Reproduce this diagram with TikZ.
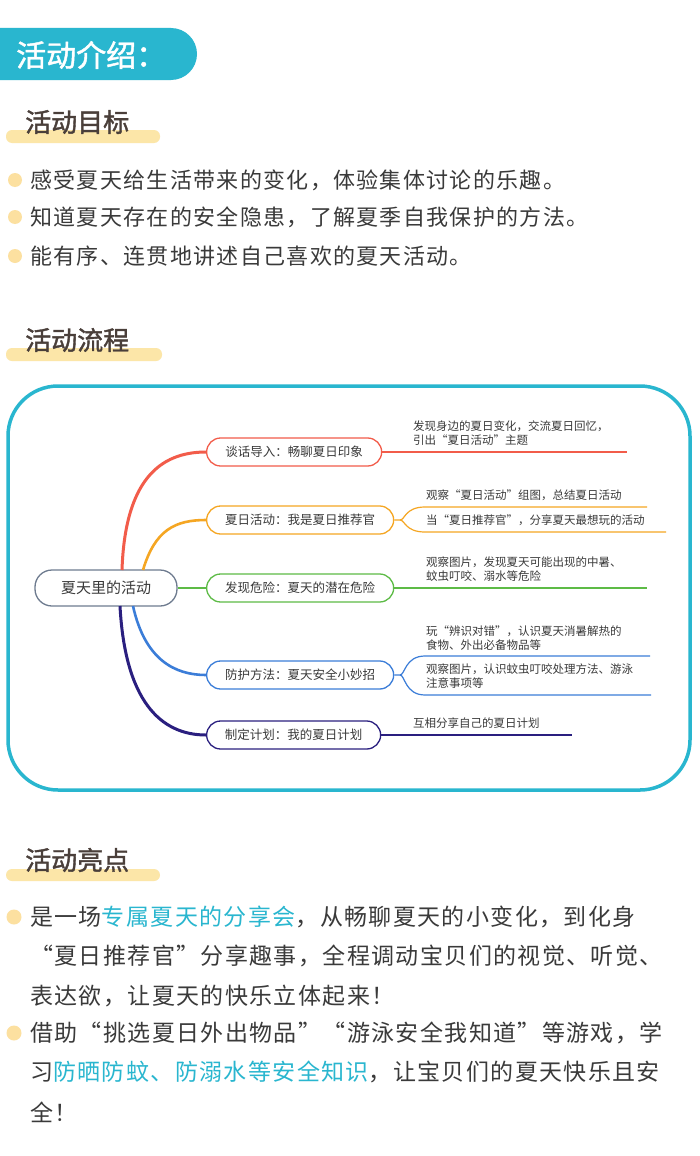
\documentclass[tikz,border=0pt]{standalone}
\usepackage{fontspec}
\setmainfont{Noto Sans CJK SC}
\newfontfamily\cjk{Noto Sans CJK SC}
\newfontfamily\cjkb[FakeBold=1.5]{Noto Sans CJK SC}
\newfontfamily\cjksp[LetterSpace=6]{Noto Sans CJK SC}
\definecolor{teal}{HTML}{29B6CF}
\definecolor{hl}{HTML}{FCE6A8}
\definecolor{dot}{HTML}{FCE0A0}
\definecolor{txt}{HTML}{3A3A3A}
\definecolor{head}{HTML}{4A3F3A}
\definecolor{cR}{HTML}{F25C4A}
\definecolor{cO}{HTML}{F5A623}
\definecolor{cG}{HTML}{5DBB46}
\definecolor{cB}{HTML}{3B7DD8}
\definecolor{cN}{HTML}{2A1F7F}
\definecolor{cC}{HTML}{6E7B8F}
\begin{document}
\begin{tikzpicture}[x=1pt,y=-1pt,
  heading/.style={anchor=west,inner sep=0pt,font=\fontsize{26}{26}\cjkb,text=head},
  bodyt/.style={anchor=west,inner sep=0pt,font=\fontsize{22}{22}\cjksp,text=txt},
  hitxt/.style={anchor=west,inner sep=0pt,font=\fontsize{23}{23}\cjksp,text=txt},
  branch/.style={draw=#1,line width=1.3pt,rounded corners=14pt,minimum height=28pt,inner xsep=12pt,font=\fontsize{12.5}{12.5}\cjk,text=txt,anchor=west},
  leaf/.style={anchor=west,inner sep=0pt,font=\fontsize{11.5}{13.5}\cjk,text=txt,align=left}]
\useasboundingbox (0,0) rectangle (700,1156);
\fill[white] (0,0) rectangle (700,1156);
% header
\fill[teal] (0,28) [rounded corners=26pt] -- (197,28) -- (197,80) [sharp corners] -- (0,80) -- cycle;
\node[anchor=west,inner sep=0pt,text=white,font=\fontsize{30}{30}\cjkb] (h0) at (16,55) {活动介绍：};
% section 1
\fill[hl,rounded corners=6pt] (6,130) rectangle (160,143);
\node[heading] (h1) at (25,122) {活动目标};
\foreach \y/\t in {180/{感受夏天给生活带来的变化，体验集体讨论的乐趣。},217/{知道夏天存在的安全隐患，了解夏季自我保护的方法。},256/{能有序、连贯地讲述自己喜欢的夏天活动。}}{
  \fill[dot] (15,\y) circle (7);
  \node[bodyt] at (30,\y) {\t};
}
% section 2
\fill[hl,rounded corners=6pt] (6,348) rectangle (162,361);
\node[heading] (h2) at (25,340) {活动流程};
\draw[teal,line width=3.5pt,rounded corners=50pt] (8,386) rectangle (690,790);
\node[draw=cC,line width=1.3pt,rounded corners=17pt,minimum width=142pt,minimum height=36pt,font=\fontsize{15}{15}\cjk,text=txt] (c) at (106,588) {夏天里的活动};
\node[branch=cR,minimum width=175pt] (b1) at (206,452) {谈话导入：畅聊夏日印象};
\node[branch=cO,minimum width=187pt] (b2) at (206,520) {夏日活动：我是夏日推荐官};
\node[branch=cG,minimum width=187pt] (b3) at (206,588) {发现危险：夏天的潜在危险};
\node[branch=cB,minimum width=187pt] (b4) at (206,675) {防护方法：夏天安全小妙招};
\node[branch=cN,minimum width=174pt] (b5) at (206,735) {制定计划：我的夏日计划};
\draw[cR,line width=3pt] (122,570) .. controls (125,480) and (160,452) .. (b1.west);
\draw[cO,line width=2.6pt] (143,570) .. controls (155,530) and (175,520) .. (b2.west);
\draw[cG,line width=2pt] (c.east) -- (b3.west);
\draw[cB,line width=2.6pt] (133,606) .. controls (145,660) and (175,675) .. (b4.west);
\draw[cN,line width=3pt] (120,606) .. controls (125,700) and (160,735) .. (b5.west);
% leaves
\coordinate (e1) at (627,452);
\draw[cR,line width=1.2pt] (b1.east) -- (e1);
\node[leaf] (l1) at (413,433) {发现身边的夏日变化，交流夏日回忆，\\引出“夏日活动”主题};
\coordinate (e2a) at (647,507); \coordinate (e2b) at (666,532);
\draw[cO,line width=1.2pt] (b2.east) -- (400,520) .. controls (405,520) and (405,507) .. (425,507) -- (e2a);
\draw[cO,line width=1.2pt] (400,520) .. controls (405,520) and (405,532) .. (425,532) -- (e2b);
\node[leaf] (l2a) at (426,495) {观察“夏日活动”组图，总结夏日活动};
\node[leaf] (l2b) at (426,520) {当“夏日推荐官”，分享夏天最想玩的活动};
\coordinate (e3) at (647,588);
\draw[cG,line width=1.2pt] (b3.east) -- (e3);
\node[leaf] (l3) at (426,569) {观察图片，发现夏天可能出现的中暑、\\蚊虫叮咬、溺水等危险};
\coordinate (e4a) at (650,656); \coordinate (e4b) at (651,695);
\draw[cB,line width=1.2pt] (b4.east) -- (400,675) .. controls (405,675) and (405,656) .. (425,656) -- (e4a);
\draw[cB,line width=1.2pt] (400,675) .. controls (405,675) and (405,695) .. (425,695) -- (e4b);
\node[leaf] (l4a) at (426,638) {玩“辨识对错”，认识夏天消暑解热的\\食物、外出必备物品等};
\node[leaf] (l4b) at (426,676) {观察图片，认识蚊虫叮咬处理方法、游泳\\注意事项等};
\coordinate (e5) at (572,735);
\draw[cN,line width=1.2pt] (b5.east) -- (e5);
\node[leaf] (l5) at (413,723) {互相分享自己的夏日计划};
% section 3
\fill[hl,rounded corners=6pt] (6,869) rectangle (160,881);
\node[heading] (h3) at (25,860) {活动亮点};
\fill[dot] (14,917) circle (7.5);
\fill[dot] (14,1033) circle (7.5);
\node[hitxt] at (30,917) {是一场\textcolor{teal}{专属夏天的分享会}，从畅聊夏天的小变化，到化身};
\node[hitxt] at (30,956) {“夏日推荐官”分享趣事，全程调动宝贝们的视觉、听觉、};
\node[hitxt] at (30,996) {表达欲，让夏天的快乐立体起来！};
\node[hitxt] at (30,1033) {借助“挑选夏日外出物品”“游泳安全我知道”等游戏，学};
\node[hitxt] at (30,1072) {习\textcolor{teal}{防晒防蚊、防溺水等安全知识}，让宝贝们的夏天快乐且安};
\node[hitxt] at (30,1112) {全！};
\end{tikzpicture}
\end{document}
